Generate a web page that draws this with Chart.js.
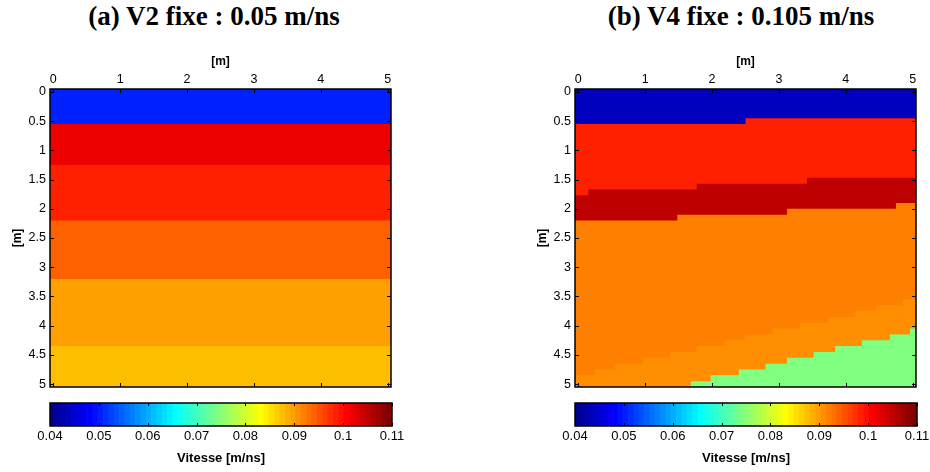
<!DOCTYPE html>
<html>
<head>
<meta charset="utf-8">
<script src="https://cdn.jsdelivr.net/npm/chart.js@4.4.0/dist/chart.umd.min.js"></script>
<style>
  body { margin: 0; background: #fff; }
  #page { position: relative; width: 930px; height: 472px; overflow: hidden; }
  .ttl { position: absolute; top: 16px; transform: translate(-50%, -50%); white-space: nowrap;
         font: bold 27px "Liberation Serif", "Times New Roman", serif; color: #000; line-height: 1; }
  canvas { position: absolute; }
</style>
</head>
<body>
<div id="page">
  <div class="ttl" style="left:214px">(a) V2 fixe : 0.05 m/ns</div>
  <div class="ttl" style="left:741px">(b) V4 fixe : 0.105 m/ns</div>
  <canvas id="mapA" width="405" height="350" style="left:0;top:45px"></canvas>
  <canvas id="mapB" width="405" height="350" style="left:525px;top:45px"></canvas>
  <canvas id="barA" width="415" height="74" style="left:0;top:398px"></canvas>
  <canvas id="barB" width="415" height="74" style="left:525px;top:398px"></canvas>
</div>
<script>
// =========================
// DATA
// =========================
const xTicks = [0, 1, 2, 3, 4, 5];
const zTicks = [0, 0.5, 1, 1.5, 2, 2.5, 3, 3.5, 4, 4.5, 5];
const cbTicks = [0.04, 0.05, 0.06, 0.07, 0.08, 0.09, 0.1, 0.11];

// model extent (cells of 0.1 m centred on 0 .. 5)
const xMin = -0.05, xMax = 5.05, zMin = -0.05, zMax = 5.05;
const cMin = 0.04, cMax = 0.11;

// (a) flat layers: depth of each layer top, velocity in m/ns
const aTop = [-0.05, 0.55, 1.25, 2.2, 3.2, 4.35];
const aVel = [0.05, 0.102, 0.0985, 0.094, 0.09, 0.0875];

// (b) velocities of the six layers
const bVel = [0.044, 0.0985, 0.105, 0.092, 0.091, 0.074];
// (b) top of each layer: x where a step starts, depth of that step
const b0x = [-0.05], b0z = [-0.05];
const b1x = [-0.05, 2.5], b1z = [0.55, 0.45];
const b2x = [-0.05, 0.15, 1.77, 3.42], b2z = [1.77, 1.67, 1.57, 1.47];
const b3x = [-0.05, 1.48, 3.12, 4.75], b3z = [2.2, 2.1, 2.0, 1.9];
const b4x = [-0.05, 0.25, 0.55, 0.97, 1.37, 1.77, 2.19, 2.49, 2.91, 3.31, 3.73, 4.14, 4.45, 4.85];
const b4z = [4.85, 4.75, 4.65, 4.55, 4.45, 4.35, 4.25, 4.15, 4.05, 3.95, 3.85, 3.75, 3.65, 3.55];
const b5x = [1.68, 1.98, 2.4, 2.8, 3.12, 3.52, 3.84, 4.24, 4.66, 4.96];
const b5z = [4.95, 4.85, 4.75, 4.65, 4.55, 4.45, 4.35, 4.25, 4.15, 4.05];

const FONT = '"Liberation Sans", Arial, sans-serif';
Chart.defaults.font.family = FONT;
Chart.defaults.color = '#000';

// =========================
// JET COLORMAP (64 levels)
// =========================
function jetIdx(i) {
  const r = i <= 24 ? 0 : i <= 40 ? (i - 24) / 16 : i <= 55 ? 1 : (72 - i) / 16;
  const g = i <= 8 ? 0 : i <= 24 ? (i - 8) / 16 : i <= 39 ? 1 : i <= 55 ? (56 - i) / 16 : 0;
  const b = i <= 8 ? (i + 8) / 16 : i <= 23 ? 1 : i <= 39 ? (40 - i) / 16 : 0;
  return `rgb(${Math.round(r * 255)},${Math.round(g * 255)},${Math.round(b * 255)})`;
}
function jet(v) {
  const i = Math.floor((v - cMin) / (cMax - cMin) * 64) + 1;
  return jetIdx(Math.min(64, Math.max(1, i)));
}

// =========================
// FRAME + INWARD TICKS
// =========================
const frame = {
  id: 'frame',
  afterDraw(chart, args, opts) {
    const { ctx, chartArea: a } = chart;
    const L = opts.len;
    ctx.save();
    ctx.strokeStyle = '#000';
    ctx.lineWidth = 1;
    const seg = (x1, y1, x2, y2) => { ctx.beginPath(); ctx.moveTo(x1, y1); ctx.lineTo(x2, y2); ctx.stroke(); };
    if (opts.h) {
      const s = chart.scales[opts.h];
      s.ticks.forEach(t => {
        const px = Math.round(s.getPixelForValue(t.value)) + 0.5;
        seg(px, a.top, px, a.top + L);
        seg(px, a.bottom, px, a.bottom - L);
      });
    }
    if (opts.v) {
      const s = chart.scales[opts.v];
      s.ticks.forEach(t => {
        const py = Math.round(s.getPixelForValue(t.value)) + 0.5;
        seg(a.left, py, a.left + L, py);
        seg(a.right, py, a.right - L, py);
      });
    }
    ctx.lineWidth = 1.5;
    ctx.strokeRect(a.left, a.top, a.right - a.left, a.bottom - a.top);
    ctx.restore();
  }
};

// =========================
// VELOCITY MAPS
// =========================
function layerSet(xs, zs, v, k, n) {
  const pts = xs.map((x, j) => ({ x: x, y: zs[j] }));
  pts.push({ x: xMax, y: zs[zs.length - 1] });
  return {
    data: pts,
    stepped: true,
    fill: { value: zMax },
    backgroundColor: jet(v),
    borderWidth: 0,
    pointRadius: 0,
    order: n - k
  };
}

function mapChart(canvasId, datasets) {
  return new Chart(document.getElementById(canvasId), {
    type: 'line',
    data: { datasets: datasets },
    options: {
      responsive: false,
      animation: false,
      events: [],
      layout: { padding: { left: 0, right: 14, top: 0, bottom: 8 } },
      plugins: {
        legend: { display: false },
        tooltip: { enabled: false },
        frame: { h: 'x', v: 'y', len: 4 }
      },
      scales: {
        x: {
          type: 'linear', position: 'top', min: xMin, max: xMax,
          afterBuildTicks: s => { s.ticks = xTicks.map(v => ({ value: v })); },
          afterFit: s => { s.height = 44; s.paddingLeft = 0; s.paddingRight = 0; },
          ticks: { padding: 2, font: { size: 12.5 }, callback: v => String(v) },
          grid: { display: false, drawTicks: false },
          border: { display: false },
          title: { display: true, text: '[m]', font: { size: 12, weight: 'bold' }, padding: { top: 9, bottom: 0 } }
        },
        y: {
          type: 'linear', reverse: true, min: zMin, max: zMax,
          afterBuildTicks: s => { s.ticks = zTicks.map(v => ({ value: v })); },
          afterFit: s => { s.width = 50; s.paddingTop = 0; s.paddingBottom = 0; },
          ticks: { padding: 4, font: { size: 12.5 }, callback: v => String(v) },
          grid: { display: false, drawTicks: false },
          border: { display: false },
          title: { display: true, text: '[m]', font: { size: 12, weight: 'bold' }, padding: { top: 10, bottom: 0 } }
        }
      }
    },
    plugins: [frame]
  });
}

const setsA = aTop.map((z, k) => layerSet([xMin], [z], aVel[k], k, aTop.length));
mapChart('mapA', setsA);

const bX = [b0x, b1x, b2x, b3x, b4x, b5x];
const bZ = [b0z, b1z, b2z, b3z, b4z, b5z];
const setsB = bX.map((xs, k) => layerSet(xs, bZ[k], bVel[k], k, bX.length));
mapChart('mapB', setsB);

// =========================
// COLORBARS
// =========================
const cbLevels = Array.from({ length: 64 }, (_, i) => i + 1);

function colorbar(canvasId) {
  return new Chart(document.getElementById(canvasId), {
    type: 'bar',
    data: {
      labels: cbLevels,
      datasets: [{
        data: cbLevels.map(() => 1),
        backgroundColor: cbLevels.map(jetIdx),
        borderWidth: 0,
        barPercentage: 1,
        categoryPercentage: 1
      }]
    },
    options: {
      responsive: false,
      animation: false,
      events: [],
      layout: { padding: { left: 50, right: 23, top: 5, bottom: 0 } },
      plugins: {
        legend: { display: false },
        tooltip: { enabled: false },
        frame: { h: 'x2', v: null, len: 3 }
      },
      scales: {
        x: { type: 'category', display: false },
        y: { display: false, min: 0, max: 1 },
        x2: {
          type: 'linear', axis: 'x', position: 'bottom', min: cMin, max: cMax, offset: false,
          afterBuildTicks: s => { s.ticks = cbTicks.map(v => ({ value: v })); },
          afterFit: s => { s.height = 46; s.paddingLeft = 0; s.paddingRight = 0; },
          ticks: { padding: 3, font: { size: 13 }, callback: v => String(v) },
          grid: { display: false, drawTicks: false, offset: false },
          border: { display: false },
          title: { display: true, text: 'Vitesse [m/ns]', font: { size: 13, weight: 'bold' }, padding: { top: 0, bottom: 6 } }
        }
      }
    },
    plugins: [frame]
  });
}

colorbar('barA');
colorbar('barB');
</script>
</body>
</html>
